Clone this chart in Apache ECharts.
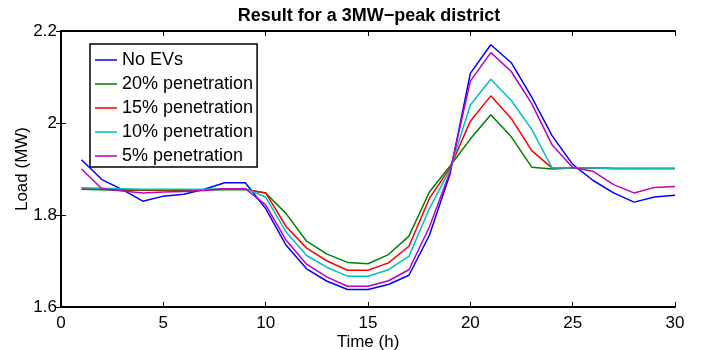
<!DOCTYPE html>
<html>
<head>
<meta charset="utf-8">
<script src="https://cdn.jsdelivr.net/npm/echarts@6/dist/echarts.min.js"></script>
<style>html,body{margin:0;padding:0;background:#fff}#c{width:702px;height:350px}</style>
</head>
<body>
<div id="c"></div>
<script>
var hours = [1,2,3,4,5,6,7,8,9,10,11,12,13,14,15,16,17,18,19,20,21,22,23,24,25,26,27,28,29,30];
var seriesNames = ["No EVs","20% penetration","15% penetration","10% penetration","5% penetration"];
var noEVs = [1.920,1.877,1.855,1.830,1.841,1.845,1.856,1.870,1.870,1.814,1.734,1.683,1.656,1.638,1.638,1.649,1.669,1.756,1.888,2.108,2.170,2.131,2.056,1.972,1.910,1.875,1.848,1.828,1.839,1.843];
var pen20 = [1.856,1.855,1.854,1.854,1.854,1.854,1.855,1.855,1.855,1.848,1.803,1.743,1.715,1.697,1.694,1.714,1.754,1.850,1.906,1.965,2.018,1.970,1.904,1.900,1.902,1.902,1.901,1.901,1.901,1.901];
var pen15 = [1.857,1.856,1.855,1.855,1.855,1.855,1.855,1.856,1.856,1.848,1.775,1.728,1.700,1.680,1.680,1.696,1.732,1.836,1.902,2.004,2.059,2.010,1.940,1.902,1.902,1.902,1.901,1.901,1.901,1.901];
var pen10 = [1.859,1.858,1.857,1.856,1.856,1.856,1.856,1.857,1.857,1.839,1.763,1.712,1.686,1.667,1.667,1.681,1.710,1.814,1.898,2.039,2.095,2.049,1.986,1.902,1.902,1.902,1.901,1.901,1.901,1.901];
var pen5 = [1.900,1.857,1.852,1.848,1.850,1.851,1.853,1.857,1.857,1.822,1.745,1.693,1.665,1.645,1.645,1.657,1.681,1.774,1.893,2.091,2.153,2.112,2.042,1.952,1.903,1.895,1.866,1.848,1.860,1.862];
var colors = ["#0000ff","#008000","#ff0000","#00bfbf","#bf00bf"];
var allValues = [noEVs, pen20, pen15, pen10, pen5];

var FONT = "Liberation Sans, Arial, Helvetica, sans-serif";
var chart = echarts.init(document.getElementById('c'), null, {renderer:'canvas'});

function pairs(v){ return hours.map(function(h,i){ return [h, v[i]]; }); }

var series = allValues.map(function(v,i){
  return {
    name: seriesNames[i], type:'line', data: pairs(v),
    showSymbol:false, symbol:'none', animation:false,
    lineStyle:{color:colors[i], width:1.5}, itemStyle:{color:colors[i]},
    xAxisIndex:0, yAxisIndex:0
  };
});

var axisLineStyle = {show:true, lineStyle:{color:'#000', width:1.8}};
var tickStyle = {show:true, inside:true, length:5, lineStyle:{color:'#000', width:1}};

chart.setOption({
  animation:false,
  color: colors,
  title:{text:'Result for a 3MW\u2212peak district', left:364, textAlign:'center', top:2,
    textStyle:{fontFamily:FONT, fontSize:18, fontWeight:'bold', color:'#000'}},
  grid:{left:61, right:27, top:31, bottom:43, containLabel:false, outerBoundsMode:'none'},
  legend:{
    orient:'vertical', left:90, top:44,
    data: seriesNames, icon:'rect', itemWidth:22, itemHeight:1.5, itemGap:6,
    backgroundColor:'#fff', borderColor:'#000', borderWidth:1.5,
    padding:[7,4,2,5],
    textStyle:{fontFamily:FONT, fontSize:18, color:'#000', lineHeight:18}
  },
  xAxis:[{
    type:'value', min:0, max:30, interval:5, position:'bottom',
    name:'Time (h)', nameLocation:'middle', nameGap:27, nameMoveOverlap:false,
    nameTextStyle:{fontFamily:FONT, fontSize:17, color:'#000'},
    axisLine:axisLineStyle, axisTick:tickStyle, splitLine:{show:false},
    axisLabel:{fontFamily:FONT, fontSize:17, color:'#000', margin:8}
  },{
    type:'value', min:0, max:30, interval:5, position:'top',
    axisLine:axisLineStyle, axisTick:tickStyle, splitLine:{show:false},
    axisLabel:{show:false}
  }],
  yAxis:[{
    type:'value', min:1.6, max:2.2, interval:0.2, position:'left',
    name:'Load (MW)', nameLocation:'middle', nameGap:30, nameRotate:90, nameMoveOverlap:false,
    nameTextStyle:{fontFamily:FONT, fontSize:17, color:'#000'},
    axisLine:axisLineStyle, axisTick:tickStyle, splitLine:{show:false},
    axisLabel:{fontFamily:FONT, fontSize:17, color:'#000', margin:4,
      formatter:function(v){ return String(+v.toFixed(1)); }}
  },{
    type:'value', min:1.6, max:2.2, interval:0.2, position:'right',
    axisLine:axisLineStyle, axisTick:tickStyle, splitLine:{show:false},
    axisLabel:{show:false}
  }],
  series: series
});
</script>
</body>
</html>
